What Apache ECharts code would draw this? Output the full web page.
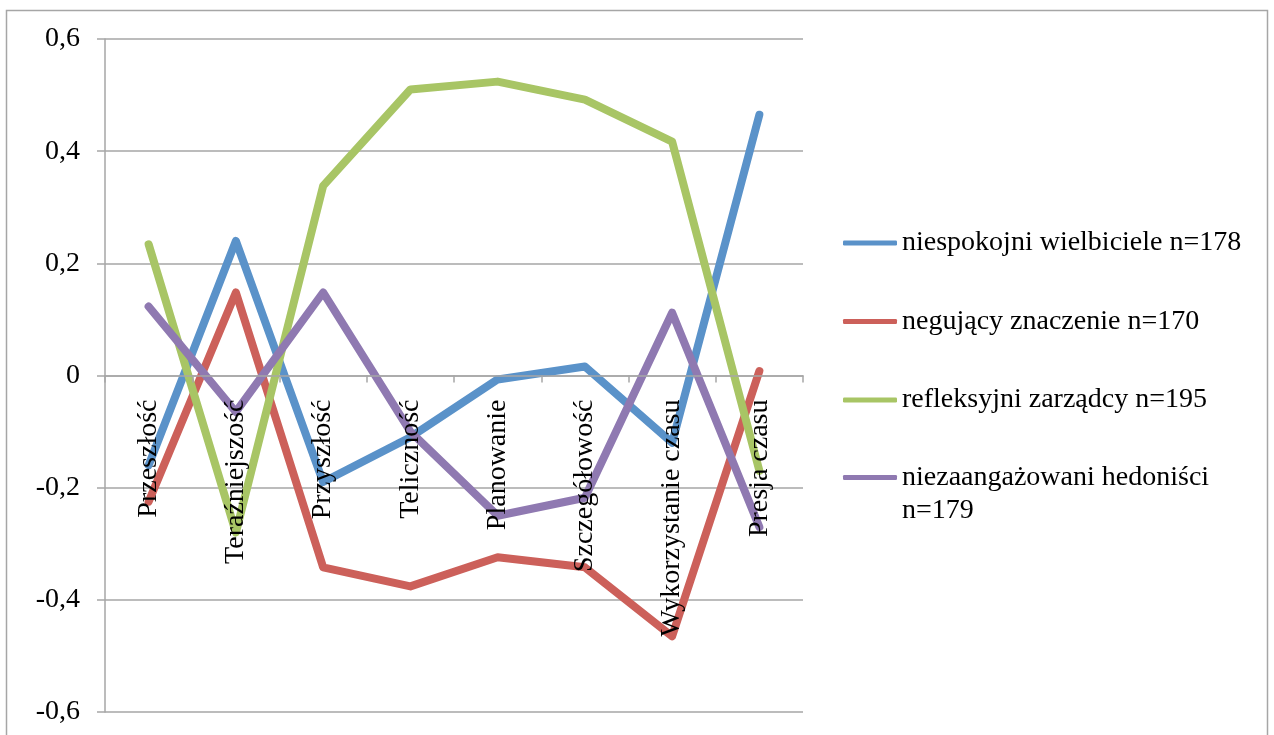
<!DOCTYPE html>
<html>
<head>
<meta charset="utf-8">
<script src="https://cdn.jsdelivr.net/npm/echarts@6/dist/echarts.min.js"></script>
<style>
html,body{margin:0;padding:0;background:#fff;}
#chart{width:1274px;height:735px;}
</style>
</head>
<body>
<div id="chart"></div>
<script>
var categories = ['Przeszłość','Teraźniejszość','Przyszłość','Teliczność','Planowanie','Szczegółowość','Wykorzystanie czasu','Presja czasu'];
var seriesNames = ['niespokojni wielbiciele n=178','negujący znaczenie n=170','refleksyjni zarządcy n=195','niezaangażowani hedoniści n=179'];
var niespokojni = [-0.16, 0.24, -0.19, -0.11, -0.007, 0.016, -0.12, 0.465];
var negujacy = [-0.225, 0.148, -0.342, -0.376, -0.324, -0.342, -0.465, 0.008];
var refleksyjni = [0.234, -0.28, 0.338, 0.51, 0.524, 0.492, 0.417, -0.17];
var niezaangazowani = [0.123, -0.065, 0.148, -0.1, -0.25, -0.218, 0.112, -0.27];
var colors = ['#5A92C9','#CC605A','#A8C565','#8F79B1'];

var font = 'Liberation Serif';
var chart = echarts.init(document.getElementById('chart'));
var dataSets = [niespokojni, negujacy, refleksyjni, niezaangazowani];
var series = dataSets.map(function(d, i){
  return {
    name: seriesNames[i], type: 'line', data: d, symbol: 'none', showSymbol: false,
    lineStyle: {width: 8, color: colors[i], cap: 'round', join: 'round'},
    itemStyle: {color: colors[i]}, z: 2, animation: false
  };
});
var legendText = {fontFamily: font, fontSize: 28, color: '#000', lineHeight: 33};
chart.setOption({
  animation: false,
  color: colors,
  graphic: [{type: 'rect', shape: {x: 6.5, y: 10.5, width: 1261, height: 740}, style: {fill: 'none', stroke: '#a6a6a6', lineWidth: 1.5}, z: -10}],
  grid: {left: 105, right: 471, top: 39, bottom: 23, containLabel: false, outerBoundsMode: 'none'},
  legend: [{
    data: seriesNames.slice(0,3), orient: 'vertical', left: 843, top: 226.5, padding: 0,
    icon: 'roundRect', itemWidth: 54, itemHeight: 5, itemGap: 45.5,
    textStyle: legendText
  },{
    data: [seriesNames[3]], orient: 'vertical', left: 843, top: 428, padding: 0,
    icon: 'roundRect', itemWidth: 54, itemHeight: 5,
    formatter: function(n){ return '\n' + n.replace(' n=', '\nn='); },
    textStyle: legendText
  }],
  xAxis: {
    type: 'category', data: categories, boundaryGap: true, z: 3, offset: -336.5,
    axisLine: {onZero: false, lineStyle: {color: '#a6a6a6', width: 1.5}},
    axisTick: {show: true, length: 7, inside: false, lineStyle: {color: '#a6a6a6', width: 1.5}},
    axisLabel: {show: true, rotate: 90, margin: 24, fontFamily: font, fontSize: 28, color: '#000', interval: 0},
    splitLine: {show: false}
  },
  yAxis: {
    type: 'value', min: -0.6, max: 0.6, interval: 0.2,
    axisLine: {show: true, lineStyle: {color: '#a6a6a6', width: 1.5}},
    axisTick: {show: true, length: 8, lineStyle: {color: '#a6a6a6', width: 1.5}},
    axisLabel: {margin: 25, fontFamily: font, fontSize: 28, color: '#000',
      formatter: function(v){ var r = Math.round(v*10)/10; return String(r).replace('.', ','); }},
    splitLine: {show: true, lineStyle: {color: '#a6a6a6', width: 1.5}}
  },
  series: series
});
</script>
</body>
</html>
